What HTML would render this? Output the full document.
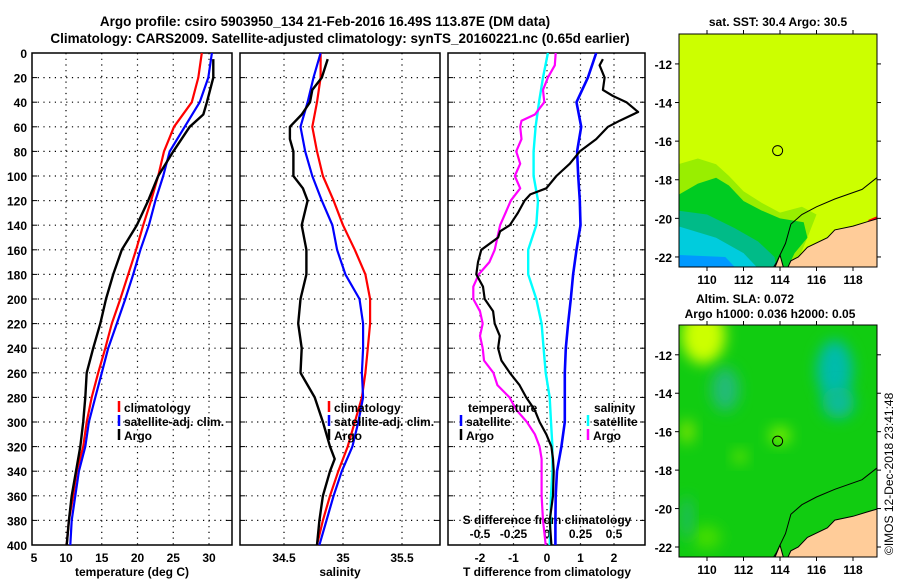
<!DOCTYPE html>
<html><head><meta charset="utf-8">
<style>
body{margin:0;background:#fff;}
svg{display:block;font-family:"Liberation Sans",sans-serif;font-weight:bold;}
</style></head>
<body>
<svg id="chart" width="900" height="580" viewBox="0 0 900 580">
<defs>
<filter id="blur" x="-50%" y="-50%" width="200%" height="200%"><feGaussianBlur stdDeviation="7"/></filter>
<clipPath id="clipTop"><rect x="679" y="34" width="198" height="233"/></clipPath>
<clipPath id="clipBot"><rect x="679" y="325" width="198" height="232"/></clipPath>
</defs>
<text x="325" y="26" font-size="13.5" text-anchor="middle">Argo profile: csiro 5903950_134 21-Feb-2016 16.49S 113.87E (DM data)</text>
<text x="340" y="43" font-size="13.5" text-anchor="middle">Climatology: CARS2009. Satellite-adjusted climatology: synTS_20160221.nc (0.65d earlier)</text>
<g id="g"></g>
<text x="778" y="26" font-size="12" text-anchor="middle">sat. SST: 30.4 Argo: 30.5</text>
<text x="745" y="303" font-size="12" text-anchor="middle">Altim. SLA: 0.072</text>
<text x="770" y="318" font-size="12" text-anchor="middle">Argo h1000: 0.036 h2000: 0.05</text>
<text transform="translate(893,555) rotate(-90)" font-size="12" font-weight="normal">©IMOS 12-Dec-2018 23:41:48</text>
</svg>
<script>
// ---- data ----
const depths = [0,20,40,60,80,100,120,140,160,180,200,220,240,260,280,300,320,340,360,380,400];
const tClim = [29.0,28.5,27.6,25.1,23.7,22.9,21.9,20.8,19.8,18.7,17.6,16.4,15.5,14.5,13.6,12.9,12.4,11.5,11.0,10.4,10.1];
const tSat  = [30.4,29.9,28.7,26.6,24.5,23.6,22.5,21.6,20.4,19.4,18.3,17.1,15.9,15.0,14.1,13.2,12.7,11.8,11.3,10.8,10.6];
const argoDepths = [5,20,40,50,60,80,100,120,140,160,180,200,220,240,260,280,300,320,340,360,380,400];
const tArgo = [30.6,30.6,29.7,29.2,27.3,25.0,22.9,21.5,19.9,17.8,16.6,15.6,14.8,13.8,12.9,12.7,12.4,12.0,11.4,10.8,10.4,10.1];
const sClim = [34.81,34.81,34.78,34.74,34.78,34.83,34.92,35.0,35.1,35.19,35.23,35.23,35.21,35.19,35.16,35.1,35.04,34.96,34.89,34.83,34.78];
const sSat  = [34.81,34.75,34.7,34.64,34.68,34.74,34.82,34.91,34.95,35.02,35.14,35.17,35.17,35.16,35.17,35.13,35.08,34.99,34.92,34.86,34.8];
const sArgoDepths = [5,20,30,40,50,60,70,80,100,110,120,140,160,180,200,220,240,260,280,300,320,330,340,360,380,400];
const sArgo = [34.87,34.82,34.74,34.72,34.65,34.55,34.55,34.58,34.58,34.66,34.7,34.65,34.69,34.69,34.64,34.62,34.65,34.64,34.76,34.83,34.89,34.93,34.89,34.83,34.8,34.78];
const dTSat = [1.47,1.22,0.88,1.02,0.9,0.93,0.98,1.0,0.88,0.78,0.71,0.63,0.56,0.53,0.53,0.53,0.43,0.3,0.26,0.25,0.25];
const dTArgoDepths = [5,10,20,30,35,40,48,55,60,70,80,90,100,110,115,120,130,140,145,150,160,170,180,190,200,210,220,230,240,250,260,270,280,290,300,310,320,330,340,360,380,400];
const dTArgo = [1.67,1.57,1.72,1.67,1.97,2.37,2.72,2.17,1.82,1.47,0.98,0.68,0.28,-0.02,-0.5,-0.67,-0.87,-1.11,-1.4,-1.46,-1.96,-2.06,-2.11,-1.91,-1.86,-1.61,-1.56,-1.41,-1.46,-1.36,-1.11,-0.82,-0.62,-0.37,-0.22,-0.02,0.13,0.18,0.2,0.18,0.08,0.13];
const dSSat = [0.007,-0.03,-0.06,-0.085,-0.1,-0.1,-0.067,-0.08,-0.14,-0.14,-0.08,-0.04,-0.025,-0.01,0.02,0.03,0.04,0.04,0.03,0.025,0.02];
const dSArgoDepths = [0,10,20,30,40,50,55,60,70,80,90,100,110,120,130,140,150,160,170,180,190,200,210,220,230,240,250,260,270,280,290,300,310,320,330,340,360,380,400];
const dSArgo = [0.065,0.058,0.007,-0.03,-0.02,-0.09,-0.19,-0.2,-0.19,-0.23,-0.2,-0.24,-0.2,-0.27,-0.31,-0.35,-0.37,-0.39,-0.43,-0.51,-0.55,-0.55,-0.5,-0.48,-0.5,-0.48,-0.47,-0.4,-0.37,-0.28,-0.23,-0.15,-0.09,-0.055,-0.04,-0.04,-0.04,-0.03,-0.01];
const depthTicks = [0,20,40,60,80,100,120,140,160,180,200,220,240,260,280,300,320,340,360,380,400];
const tTicks = [5,10,15,20,25,30];
const sTicks = [34.5,35,35.5];
const dTTicks = [-2,-1,0,1,2];
const dSTicks = [-0.5,-0.25,0,0.25,0.5];
const dSTickLabels = ["-0.5","-0.25","0","0.25","0.5"];
const lonTicks = [110,112,114,116,118];
const latTicks = [-12,-14,-16,-18,-20,-22];
const argoPos = [113.87,-16.49];

// ---- axes ----
const NS='http://www.w3.org/2000/svg';
const g=document.getElementById('g');
function mk(tag,attrs,parent){const e=document.createElementNS(NS,tag);for(const k in attrs)e.setAttribute(k,attrs[k]);(parent||g).appendChild(e);return e;}
const Y0=53, Y1=545;
const yD = d => Y0 + d*(Y1-Y0)/400;
const xT = t => 66 + (t-10)*7.15;
const xS = s => 343 + (s-35)*118;
const xDT = d => 547 + d*33.5;
const xDS = s => 547 + s*134;
const panels=[{x0:32,x1:232,name:'temperature-panel'},{x0:240,x1:440,name:'salinity-panel'},{x0:448,x1:645,name:'difference-panel'}];

function line(xs,ys,xf,col,w,name){
  const pts=xs.map((v,i)=>xf(v).toFixed(1)+','+yD(ys[i]).toFixed(1)).join(' ');
  const p=mk('polyline',{points:pts,fill:'none',stroke:col,'stroke-width':w,'stroke-linejoin':'round'});
  
  
}

panels.forEach((p,pi)=>{
  const grp=mk('g',{});
  
  
  depthTicks.forEach(d=>{
    if(d>0&&d<400){const l=mk('line',{x1:p.x0,x2:p.x1,y1:yD(d),y2:yD(d),stroke:'#000','stroke-width':1.2,'stroke-dasharray':'1.2,4.5'},grp);
      }
    mk('line',{x1:p.x0,x2:p.x0+5,y1:yD(d),y2:yD(d),stroke:'#000'},grp);
    mk('line',{x1:p.x1-5,x2:p.x1,y1:yD(d),y2:yD(d),stroke:'#000'},grp);
  });
  const xf=[xT,xS,xDT][pi];
  const ticks=[tTicks,sTicks,dTTicks][pi];
  ticks.forEach(t=>{
    const x=xf(t);
    if(x>p.x0+2&&x<p.x1-2){const l=mk('line',{x1:x,x2:x,y1:Y0,y2:Y1,stroke:'#000','stroke-width':1.2,'stroke-dasharray':'1.2,4.5'},grp);
      }
    const tx=mk('text',{x:Math.max(x,34),y:Y1+17,'font-size':12,'text-anchor':'middle'},grp);
    tx.textContent=String(t);
    
  });
  const r=mk('rect',{x:p.x0,y:Y0,width:p.x1-p.x0,height:Y1-Y0,fill:'none',stroke:'#000','stroke-width':1.5},grp);
  
});
depthTicks.forEach(d=>{
  const t=mk('text',{x:27,y:yD(d)+5,'font-size':12,'text-anchor':'end'});
  t.textContent=String(d);
  
  
});
dSTicks.forEach((s,i)=>{
  const t=mk('text',{x:xDS(s),y:538,'font-size':12,'text-anchor':'middle'});
  t.textContent=dSTickLabels[i];
  
  
});
function label(x,y,txt,name,anchor){const t=mk('text',{x:x,y:y,'font-size':12,'text-anchor':anchor||'middle'});t.textContent=txt;return t;}
label(132,576,'temperature (deg C)','temperature-axis-title');
label(340,576,'salinity','salinity-axis-title');
label(547,576,'T difference from climatology','t-diff-axis-title');
label(547,524,'S difference from climatology','s-diff-axis-title');

// ---- series ----
line(tClim,depths,xT,'#ff0000',2.2,'temp-climatology-line');
line(tSat,depths,xT,'#0000ff',2.2,'temp-satellite-line');
line(tArgo,argoDepths,xT,'#000000',2.4,'temp-argo-line');
line(sClim,depths,xS,'#ff0000',2.2,'sal-climatology-line');
line(sSat,depths,xS,'#0000ff',2.2,'sal-satellite-line');
line(sArgo,sArgoDepths,xS,'#000000',2.4,'sal-argo-line');
line(dSSat,depths,xDS,'#00ffff',2.4,'sdiff-satellite-line');
line(dSArgo,dSArgoDepths,xDS,'#ff00ff',2.2,'sdiff-argo-line');
line(dTSat,depths,xDT,'#0000ff',2.6,'tdiff-satellite-line');
line(dTArgo,dTArgoDepths,xDT,'#000000',2.2,'tdiff-argo-line');

// ---- legends ----
function leg(x,y,col,txt,name){
  const b=mk('line',{x1:x,x2:x,y1:y-11,y2:y,stroke:col,'stroke-width':2.5});
  
  label(x+5,y,txt,name,'start');
}
leg(119,412,'#ff0000','climatology','legend-climatology');
leg(119,426,'#0000ff','satellite-adj. clim.','legend-satellite-adj');
leg(119,440,'#000000','Argo','legend-argo');
leg(329,412,'#ff0000','climatology','legend-sal-climatology');
leg(329,426,'#0000ff','satellite-adj. clim.','legend-sal-satellite-adj');
leg(329,440,'#000000','Argo','legend-sal-argo');
label(468,412,'temperature','legend-temp-header','start');
leg(461,426,'#0000ff','satellite','legend-tdiff-satellite');
leg(461,440,'#000000','Argo','legend-tdiff-argo');
label(594,412,'salinity','legend-sal-header','start');
leg(588,426,'#00ffff','satellite','legend-sdiff-satellite');
leg(588,440,'#ff00ff','Argo','legend-sdiff-argo');

// ---- maps ----
function makeMap(top,bot,clip,kind){
  const lat0=-10.45, lat1=-22.52;
  const mx=lon=>707+(lon-110)*18.25;
  const my=lat=>top+(lat0-lat)*(bot-top)/(lat0-lat1);
  const grp=mk('g',{'clip-path':'url(#'+clip+')'});
  
  
  const poly=(pts,fill,name,extra)=>{const e=mk('polygon',Object.assign({points:pts.map(p=>mx(p[0]).toFixed(1)+','+my(p[1]).toFixed(1)).join(' '),fill:fill},extra||{}),grp);return e;};
  const ell=(lon,lat,rx,ry,fill,name)=>{const e=mk('ellipse',{cx:mx(lon),cy:my(lat),rx:rx,ry:ry,fill:fill,filter:'url(#blur)'},grp);};
  if(kind==='sst'){
    poly([[108,-10],[120,-10],[120,-23],[108,-23]],'#ccff00','sst-background');
    poly([[108.4,-17.2],[109.5,-16.9],[110.5,-17.2],[111.2,-17.8],[112,-18.6],[113,-19.2],[114,-19.7],[115.2,-19.4],[116,-19.8],[115.5,-21],[114.8,-22.6],[108.4,-22.6]],'#99ee00','sst-warm-green');
    poly([[108.4,-18.8],[109.5,-18.2],[110.5,-17.9],[111.2,-18.3],[112,-19.1],[113,-19.6],[114,-20.0],[115.3,-20.2],[115.5,-21],[114.8,-21.8],[114.4,-22.6],[108.4,-22.6]],'#00cc22','sst-green');
    poly([[108.4,-19.6],[110,-19.8],[111.5,-20.5],[112.8,-21.2],[113.7,-22],[113.8,-22.6],[108.4,-22.6]],'#00bb88','sst-teal');
    poly([[108.4,-20.4],[110.5,-21.0],[112,-21.8],[112.8,-22.6],[108.4,-22.6]],'#00ccdd','sst-cyan');
    poly([[108.4,-21.9],[111,-22.0],[111.6,-22.6],[108.4,-22.6]],'#0099ff','sst-blue');
    poly([[118.8,-20.1],[119.3,-19.9],[119.3,-20.3]],'#ff0000','sst-hot-spot');
  } else {
    poly([[108,-10],[120,-10],[120,-23],[108,-23]],'#11cc11','sla-background');
    ell(109.8,-11,22,28,'#ccff00','sla-high-patch');
    ell(111,-13.8,14,22,'#22bb77','sla-low-patch-west');
    ell(117,-12.8,18,30,'#00bbaa','sla-low-patch-east');
    ell(117.2,-14.5,16,16,'#11bb99','sla-low-patch-east-2');
    ell(114,-16.2,11,9,'#77ee00','sla-high-spot-argo');
    ell(111.8,-17.3,7,7,'#66e400','sla-high-spot');
    ell(108.9,-16,8,12,'#77e400','sla-high-spot-west');
    ell(110,-21.5,14,12,'#44dd00','sla-high-spot-south');
    ell(108.9,-20.5,6,22,'#22bb66','sla-low-strip-west');
  }
  poly([[119.4,-20],[118.7,-20.2],[118,-20.4],[117,-20.6],[116.6,-21],[115.5,-21.5],[115,-22],[114.6,-22.2],[114.4,-22.6],[119.4,-22.6]],'#ffcc99','land',{stroke:'#000','stroke-width':1});
  poly([[113.7,-22.6],[114.0,-21.9],[114.2,-22.6]],'#ffcc99','land-peninsula',{stroke:'#000','stroke-width':1});
  const coast=[[119.3,-17.9],[118.5,-18.5],[117,-19],[116,-19.4],[115.2,-19.8],[114.6,-20.3],[114.3,-21.3],[113.8,-22.3],[113.6,-22.6]];
  const c=mk('polyline',{points:coast.map(p=>mx(p[0]).toFixed(1)+','+my(p[1]).toFixed(1)).join(' '),fill:'none',stroke:'#000','stroke-width':1},grp);
  
  const m=mk('circle',{cx:mx(argoPos[0]),cy:my(argoPos[1]),r:5,fill:'none',stroke:'#000','stroke-width':1});
  
  const fr=mk('rect',{x:679,y:top,width:198,height:bot-top,fill:'none',stroke:'#000','stroke-width':1});
  
  lonTicks.forEach(lon=>{
    mk('line',{x1:mx(lon),x2:mx(lon),y1:top-4,y2:top,stroke:'#000'});
    mk('line',{x1:mx(lon),x2:mx(lon),y1:bot,y2:bot+4,stroke:'#000'});
    const t=mk('text',{x:mx(lon),y:bot+17,'font-size':12,'text-anchor':'middle'});t.textContent=String(lon);
    
  });
  latTicks.forEach(lat=>{
    mk('line',{x1:675,x2:679,y1:my(lat),y2:my(lat),stroke:'#000'});
    mk('line',{x1:877,x2:881,y1:my(lat),y2:my(lat),stroke:'#000'});
    const t=mk('text',{x:672,y:my(lat)+5,'font-size':12,'text-anchor':'end'});t.textContent=String(lat);
    
  });
}
makeMap(34,267,'clipTop','sst');
makeMap(325,557,'clipBot','sla');
</script>
</body></html>
